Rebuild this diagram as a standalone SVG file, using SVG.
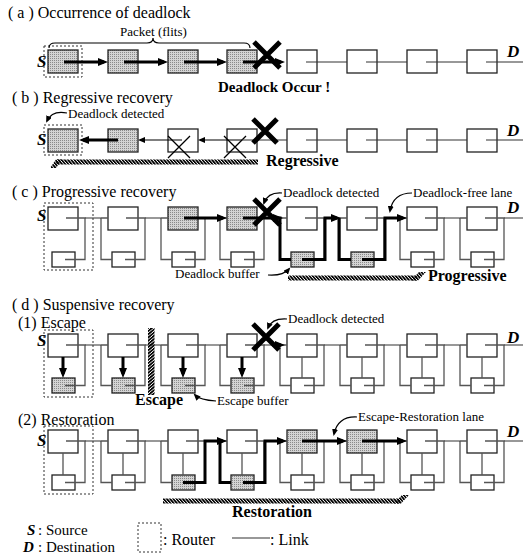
<svg xmlns="http://www.w3.org/2000/svg" width="529" height="555" viewBox="0 0 529 555">
<style>
.bg{fill:#fff}
.box{fill:#fff;stroke:#222;stroke-width:1.3}
.flit{fill:url(#stip);stroke:#222;stroke-width:1.3}
.wire{fill:none;stroke:#555;stroke-width:1.3}
.link{fill:none;stroke:#333;stroke-width:1.2}
.thick{fill:none;stroke:#000;stroke-width:3}
.thin{fill:none;stroke:#000;stroke-width:1.2}
.xm{stroke:#000;stroke-width:5}
.xs{stroke:#000;stroke-width:1.3}
.router{fill:none;stroke:#333;stroke-width:1;stroke-dasharray:2,2}
text{font-family:"Liberation Serif","Times New Roman",serif;fill:#000}
.title{font-size:16px}
.small{font-size:13px}
.bold{font-size:16px;font-weight:bold}
.bi{font-size:17px;font-weight:bold;font-style:italic}
</style>
<defs>
<pattern id="stip" width="2" height="2" patternUnits="userSpaceOnUse"><rect width="2" height="2" fill="#d4d4d4"/><rect width="1" height="1" fill="#8a8a8a"/></pattern>
<pattern id="hatch" width="3.2" height="6" patternUnits="userSpaceOnUse" patternTransform="skewX(40)"><rect width="2.2" height="6" fill="#000"/></pattern>
<pattern id="vhatch" width="8" height="3.2" patternUnits="userSpaceOnUse" patternTransform="skewY(-40)"><rect width="8" height="2.2" fill="#000"/></pattern>
<marker id="ah" viewBox="0 0 10 8" refX="6" refY="4" markerWidth="10" markerHeight="8" markerUnits="userSpaceOnUse" orient="auto"><path d="M0,0 L10,4 L0,8 z" fill="#000"/></marker>
<marker id="ahs" viewBox="0 0 7 6" refX="5" refY="3" markerWidth="7" markerHeight="6" markerUnits="userSpaceOnUse" orient="auto"><path d="M0,0 L7,3 L0,6 z" fill="#000"/></marker>
</defs>
<rect class="bg" width="529" height="555"/>

<!-- titles -->
<text class="title" x="8" y="18">( a ) Occurrence of deadlock</text>
<text class="title" x="12" y="103">( b ) Regressive recovery</text>
<text class="title" x="12" y="197">( c ) Progressive recovery</text>
<text class="title" x="12" y="310">( d ) Suspensive recovery</text>
<text class="title" x="18" y="328">(1) Escape</text>
<text class="title" x="18" y="425">(2) Restoration</text>

<!-- (a) -->
<g id="a-nodes">
<g id="a-r1"><rect class="router" x="44" y="46" width="38" height="31"/><rect class="flit" x="48" y="50" width="30" height="23"/></g>
<g id="a-r2"><rect class="flit" x="108" y="50" width="30" height="23"/></g>
<g id="a-r3"><rect class="flit" x="168" y="50" width="30" height="23"/></g>
<g id="a-r4"><rect class="flit" x="227" y="50" width="30" height="23"/></g>
<g id="a-r5"><rect class="box" x="287" y="50" width="30" height="23"/></g>
<g id="a-r6"><rect class="box" x="347" y="50" width="30" height="23"/></g>
<g id="a-r7"><rect class="box" x="407" y="50" width="30" height="23"/></g>
<g id="a-r8"><rect class="box" x="467" y="50" width="30" height="23"/></g>
</g>
<g id="a-connectors">
<path class="thick" d="M64,62 H104" marker-end="url(#ah)"/>
<path class="thick" d="M124,62 H164" marker-end="url(#ah)"/>
<path class="thick" d="M184,62 H223" marker-end="url(#ah)"/>
<path class="thick" d="M243,62 H281" marker-end="url(#ah)"/>
<path class="link" d="M306,62 H347 M366,62 H407 M426,62 H467 M486,62 H523"/>
<path class="xm" d="M254,42 L280,68 M280,42 L254,68"/>
<path class="thin" d="M49,48 Q49,43 55,43 H147 Q153,43 153,38 Q153,43 159,43 H244 Q250,43 250,48"/>
</g>
<text class="bi" x="37" y="67">S</text>
<text class="bi" x="507" y="57">D</text>
<text class="small" x="120" y="36">Packet (flits)</text>
<text class="bold" x="218" y="92" style="font-size:15px">Deadlock Occur !</text>

<!-- (b) -->
<g id="b-nodes">
<g id="b-r1"><rect class="router" x="44" y="125" width="38" height="30"/><rect class="flit" x="48" y="129" width="30" height="23"/></g>
<g id="b-r2"><rect class="flit" x="108" y="129" width="30" height="23"/></g>
<g id="b-r3"><rect class="box" x="168" y="129" width="30" height="23"/><path class="xs" d="M168,158 L190,136 M168,136 L190,158"/></g>
<g id="b-r4"><rect class="box" x="227" y="129" width="30" height="23"/><path class="xs" d="M224,158 L246,136 M224,136 L246,158"/></g>
<g id="b-r5"><rect class="box" x="287" y="129" width="30" height="23"/></g>
<g id="b-r6"><rect class="box" x="347" y="129" width="30" height="23"/></g>
<g id="b-r7"><rect class="box" x="407" y="129" width="30" height="23"/></g>
<g id="b-r8"><rect class="box" x="467" y="129" width="30" height="23"/></g>
</g>
<g id="b-connectors">
<path class="thick" d="M118,140 H83" marker-end="url(#ah)"/>
<path class="thin" d="M182,140 H140" marker-end="url(#ahs)"/>
<path class="thin" d="M242,140 H200" marker-end="url(#ahs)"/>
<path class="link" d="M242,140 H287 M306,140 H347 M366,140 H407 M426,140 H467 M486,140 H523"/>
<path class="xm" d="M253,119 L277,143 M277,119 L253,143"/>
<path class="thin" d="M67,113 Q52,110 47,121" marker-end="url(#ahs)"/>
<rect x="56" y="159.5" width="202" height="5" fill="url(#hatch)"/>
<polygon points="56,159.5 62,159.5 56,168 50,168" fill="url(#hatch)"/>
</g>
<text class="bi" x="37" y="145">S</text>
<text class="bi" x="507" y="136">D</text>
<text class="small" x="68" y="118">Deadlock detected</text>
<text class="bold" x="266" y="166">Regressive</text>

<!-- (c) -->
<g id="c-nodes">
<g id="c-r1"><rect class="router" x="44" y="203" width="49" height="67"/><rect class="box" x="48" y="207" width="30" height="23"/><rect class="box" x="52" y="252" width="23" height="15"/><path class="wire" d="M66,218 H85 V259.5 H65"/></g>
<g id="c-r2"><rect class="box" x="108" y="207" width="30" height="23"/><rect class="box" x="112" y="252" width="23" height="15"/><path class="wire" d="M101,218 H108 M101,218 V259.5 H112 M126,218 H145 V259.5 H125"/></g>
<g id="c-r3"><rect class="flit" x="168" y="207" width="30" height="23"/><rect class="box" x="172" y="252" width="23" height="15"/><path class="wire" d="M161,218 H168 M161,218 V259.5 H172 M186,218 H205 V259.5 H185"/></g>
<g id="c-r4"><rect class="flit" x="227" y="207" width="30" height="23"/><rect class="box" x="231" y="252" width="23" height="15"/><path class="wire" d="M220,218 H227 M220,218 V259.5 H231 M245,218 H264 V259.5 H244"/></g>
<g id="c-r5"><rect class="box" x="287" y="207" width="30" height="23"/><rect class="flit" x="291" y="252" width="23" height="15"/><path class="wire" d="M280,218 H287 M280,218 V259.5 H291 M305,218 H324 V259.5 H304"/></g>
<g id="c-r6"><rect class="box" x="347" y="207" width="30" height="23"/><rect class="flit" x="351" y="252" width="23" height="15"/><path class="wire" d="M340,218 H347 M340,218 V259.5 H351 M365,218 H384 V259.5 H364"/></g>
<g id="c-r7"><rect class="box" x="407" y="207" width="30" height="23"/><rect class="box" x="411" y="252" width="23" height="15"/><path class="wire" d="M400,218 H407 M400,218 V259.5 H411 M425,218 H444 V259.5 H424"/></g>
<g id="c-r8"><rect class="box" x="467" y="207" width="30" height="23"/><rect class="box" x="471" y="252" width="23" height="15"/><path class="wire" d="M460,218 H467 M460,218 V259.5 H471 M485,218 H504 V259.5 H484"/></g>
</g>
<g id="c-connectors">
<path class="link" d="M85,218 H101 M145,218 H161 M205,218 H220 M264,218 H280 M324,218 H340 M384,218 H400 M444,218 H460 M504,218 H523"/>
<path class="thick" d="M184,218 H223" marker-end="url(#ah)"/>
<path class="thick" d="M243,218 H279" marker-end="url(#ah)"/>
<path class="thick" d="M280,216.5 V259.5 H291"/>
<path class="thick" d="M302,259.5 H325 V218 H337" marker-end="url(#ah)"/>
<path class="thick" d="M339,218 V259.5 H351"/>
<path class="thick" d="M362,259.5 H385 V218 H403" marker-end="url(#ah)"/>
<path class="xm" d="M254,199 L280,225 M280,199 L254,225"/>
<path class="thin" d="M282,193 Q268,192 264,203" marker-end="url(#ahs)"/>
<path class="thin" d="M412,193 Q393,193 390,211" marker-end="url(#ahs)"/>
<path class="thin" d="M268,275 Q283,276 289,269" marker-end="url(#ahs)"/>
<rect x="288" y="275.5" width="129" height="5" fill="url(#hatch)"/>
<polygon points="411,280.5 418,280.5 426,272 419,272" fill="url(#hatch)"/>
</g>
<text class="bi" x="37" y="221">S</text>
<text class="bi" x="507" y="213">D</text>
<text class="small" x="283" y="197">Deadlock detected</text>
<text class="small" x="413" y="197">Deadlock-free lane</text>
<text class="small" x="175" y="278">Deadlock buffer</text>
<text class="bold" x="428" y="281">Progressive</text>

<!-- (d)(1) -->
<g id="d1-nodes">
<g id="d1-r1"><rect class="router" x="44" y="330" width="49" height="67"/><rect class="box" x="48" y="334" width="30" height="23"/><rect class="flit" x="52" y="378" width="23" height="15"/><path class="wire" d="M66,345 H85 V385.5 H65"/></g>
<g id="d1-r2"><rect class="box" x="108" y="334" width="30" height="23"/><rect class="flit" x="112" y="378" width="23" height="15"/><path class="wire" d="M101,345 H108 M101,345 V385.5 H112 M126,345 H145 V385.5 H125"/></g>
<g id="d1-r3"><rect class="box" x="168" y="334" width="30" height="23"/><rect class="flit" x="172" y="378" width="23" height="15"/><path class="wire" d="M161,345 H168 M161,345 V385.5 H172 M186,345 H205 V385.5 H185"/></g>
<g id="d1-r4"><rect class="box" x="227" y="334" width="30" height="23"/><rect class="flit" x="231" y="378" width="23" height="15"/><path class="wire" d="M220,345 H227 M220,345 V385.5 H231 M245,345 H264 V385.5 H244"/></g>
<g id="d1-r5"><rect class="box" x="287" y="334" width="30" height="23"/><rect class="box" x="291" y="378" width="23" height="15"/><path class="wire" d="M280,345 H287 M280,345 V385.5 H291 M305,345 H324 V385.5 H304 M302,357 V378"/></g>
<g id="d1-r6"><rect class="box" x="347" y="334" width="30" height="23"/><rect class="box" x="351" y="378" width="23" height="15"/><path class="wire" d="M340,345 H347 M340,345 V385.5 H351 M365,345 H384 V385.5 H364 M362,357 V378"/></g>
<g id="d1-r7"><rect class="box" x="407" y="334" width="30" height="23"/><rect class="box" x="411" y="378" width="23" height="15"/><path class="wire" d="M400,345 H407 M400,345 V385.5 H411 M425,345 H444 V385.5 H424 M422,357 V378"/></g>
<g id="d1-r8"><rect class="box" x="467" y="334" width="30" height="23"/><rect class="box" x="471" y="378" width="23" height="15"/><path class="wire" d="M460,345 H467 M460,345 V385.5 H471 M485,345 H504 V385.5 H484 M482,357 V378"/></g>
</g>
<g id="d1-connectors">
<path class="link" d="M85,345 H101 M145,345 H161 M205,345 H220 M264,345 H280 M324,345 H340 M384,345 H400 M444,345 H460 M504,345 H523"/>
<path class="thick" d="M63,357 V374" marker-end="url(#ah)"/>
<path class="thick" d="M123,357 V374" marker-end="url(#ah)"/>
<path class="thick" d="M183,357 V374" marker-end="url(#ah)"/>
<path class="thick" d="M242,357 V374" marker-end="url(#ah)"/>
<path class="thick" d="M272,345 H281" marker-end="url(#ah)"/>
<path class="xm" d="M253,324 L279,350 M279,324 L253,350"/>
<path class="thin" d="M287,319 Q272,318 268,328" marker-end="url(#ahs)"/>
<path class="thin" d="M216,401 Q200,400 195,395" marker-end="url(#ahs)"/>
<rect x="148" y="328" width="6.5" height="67" fill="url(#vhatch)"/>
</g>
<text class="bi" x="37" y="346">S</text>
<text class="bi" x="507" y="343">D</text>
<text class="small" x="288" y="323">Deadlock detected</text>
<text class="small" x="217" y="405">Escape buffer</text>
<text class="bold" x="135" y="405">Escape</text>

<!-- (d)(2) -->
<g id="d2-nodes">
<g id="d2-r1"><rect class="router" x="44" y="426" width="49" height="68"/><rect class="box" x="48" y="430" width="30" height="23"/><rect class="box" x="52" y="475" width="23" height="15"/><path class="wire" d="M66,441 H85 V482.5 H65 M63,453 V475"/></g>
<g id="d2-r2"><rect class="box" x="108" y="430" width="30" height="23"/><rect class="box" x="112" y="475" width="23" height="15"/><path class="wire" d="M101,441 H108 M101,441 V482.5 H112 M126,441 H145 V482.5 H125 M123,453 V475"/></g>
<g id="d2-r3"><rect class="box" x="168" y="430" width="30" height="23"/><rect class="flit" x="172" y="475" width="23" height="15"/><path class="wire" d="M161,441 H168 M161,441 V482.5 H172 M186,441 H205 V482.5 H185 M183,453 V475"/></g>
<g id="d2-r4"><rect class="box" x="227" y="430" width="30" height="23"/><rect class="flit" x="231" y="475" width="23" height="15"/><path class="wire" d="M220,441 H227 M220,441 V482.5 H231 M245,441 H264 V482.5 H244 M242,453 V475"/></g>
<g id="d2-r5"><rect class="flit" x="287" y="430" width="30" height="23"/><rect class="box" x="291" y="475" width="23" height="15"/><path class="wire" d="M280,441 H287 M280,441 V482.5 H291 M305,441 H324 V482.5 H304 M302,453 V475"/></g>
<g id="d2-r6"><rect class="flit" x="347" y="430" width="30" height="23"/><rect class="box" x="351" y="475" width="23" height="15"/><path class="wire" d="M340,441 H347 M340,441 V482.5 H351 M365,441 H384 V482.5 H364 M362,453 V475"/></g>
<g id="d2-r7"><rect class="box" x="407" y="430" width="30" height="23"/><rect class="box" x="411" y="475" width="23" height="15"/><path class="wire" d="M400,441 H407 M400,441 V482.5 H411 M425,441 H444 V482.5 H424 M422,453 V475"/></g>
<g id="d2-r8"><rect class="box" x="467" y="430" width="30" height="23"/><rect class="box" x="471" y="475" width="23" height="15"/><path class="wire" d="M460,441 H467 M460,441 V482.5 H471 M485,441 H504 V482.5 H484 M482,453 V475"/></g>
</g>
<g id="d2-connectors">
<path class="link" d="M85,441 H101 M145,441 H161 M205,441 H220 M264,441 H280 M324,441 H340 M384,441 H400 M444,441 H460 M504,441 H523"/>
<path class="thick" d="M183,482.5 H205 V441 H223" marker-end="url(#ah)"/>
<path class="thick" d="M220,441 V482.5 H231"/>
<path class="thick" d="M243,482.5 H265 V441 H283" marker-end="url(#ah)"/>
<path class="thick" d="M302,441 H343" marker-end="url(#ah)"/>
<path class="thick" d="M362,441 H403" marker-end="url(#ah)"/>
<path class="thin" d="M357,417 Q338,416 334,434" marker-end="url(#ahs)"/>
<rect x="163" y="498.5" width="237" height="5" fill="url(#hatch)"/>
<polygon points="394,503.5 401,503.5 409,495 402,495" fill="url(#hatch)"/>
</g>
<text class="bi" x="37" y="446">S</text>
<text class="bi" x="507" y="437">D</text>
<text class="small" x="358" y="421">Escape-Restoration lane</text>
<text class="bold" x="232" y="517">Restoration</text>

<!-- legend -->
<g id="legend">
<text class="bi" x="27" y="535" style="font-size:15px">S</text>
<text class="title" x="38" y="535" style="font-size:15px">: Source</text>
<text class="bi" x="23" y="552" style="font-size:15px">D</text>
<text class="title" x="38" y="552" style="font-size:15px">: Destination</text>
<rect class="router" x="138" y="523" width="23" height="29"/>
<text class="title" x="163" y="545">: Router</text>
<line class="link" x1="232" y1="538" x2="270" y2="538"/>
<text class="title" x="270" y="545">: Link</text>
</g>
</svg>
